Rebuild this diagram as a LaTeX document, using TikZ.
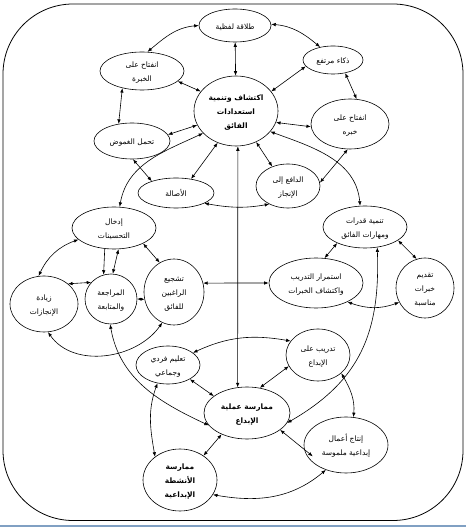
\documentclass[tikz,border=0pt]{standalone}
\usepackage{fontspec}
\usetikzlibrary{shapes.geometric,arrows.meta}
\TeXXeTstate=1
\newfontfamily\arabicfont[Script=Arabic]{DejaVu Sans}
\newcommand\zt[1]{\raisebox{-0.6ex}[0pt][0pt]{\makebox[0pt]{\begin{tabular}{@{}c@{}}#1\end{tabular}}}}
\newcommand\RL[1]{\beginR #1\endR}
\definecolor{rule}{RGB}{128,160,195}
\tikzset{
  bub/.style={draw, ellipse, line width=0.6pt, inner sep=0pt,
    font=\arabicfont\fontsize{7.5}{14}\selectfont},
  bubb/.style={bub, font=\arabicfont\bfseries\fontsize{7.5}{14}\selectfont},
  lnk/.style={line width=0.6pt, {Latex[length=4.5pt,width=3.5pt]}-{Latex[length=4.5pt,width=3.5pt]}},
  one/.style={line width=0.6pt, -{Latex[length=4.5pt,width=3.5pt]}},
}
\begin{document}
\begin{tikzpicture}[x=1pt,y=1pt]
\useasboundingbox (0,0) rectangle (466,528);
\draw[line width=0.8pt, rounded corners=70pt] (3,7.5) rectangle (463,524);
\draw[rule, line width=1.2pt] (0,2) -- (466,2);

% nodes
\node[bub, minimum width=72pt, minimum height=33pt] (T) at (235,502.5) {\zt{\RL{طلاقة لفظية}}};
\node[bub, minimum width=84pt, minimum height=38pt] (L1) at (142,457) {\zt{\RL{انفتاح على}\\\RL{الخبرة}}};
\node[bub, minimum width=60pt, minimum height=28pt] (R1) at (333,468) {\zt{\RL{ذكاء مرتفع}}};
\node[bubb, minimum width=84pt, minimum height=70pt] (C) at (236,417) {\zt{\RL{اكتشاف وتنمية}\\\RL{استعدادات}\\\RL{الفائق}}};
\node[bub, minimum width=78pt, minimum height=50pt] (R2) at (350,404) {\zt{\RL{انفتاح على}\\\RL{خبره}}};
\node[bub, minimum width=76pt, minimum height=36pt] (L2) at (132,387) {\zt{\RL{تحمل الغموض}}};
\node[bub, minimum width=76pt, minimum height=30pt] (A) at (176,335) {\zt{\RL{الأصالة}}};
\node[bub, minimum width=64pt, minimum height=44pt] (D) at (288,342) {\zt{\RL{الدافع إلى}\\\RL{الإنجاز}}};
\node[bub, minimum width=84pt, minimum height=42pt] (I) at (114,300) {\zt{\RL{إدخال}\\\RL{التحسينات}}};
\node[bub, minimum width=84pt, minimum height=42pt] (N) at (365,301) {\zt{\RL{تنمية قدرات}\\\RL{ومهارات الفائق}}};
\node[bub, minimum width=68pt, minimum height=56pt] (Z) at (44,224) {\zt{\RL{زيادة}\\\RL{الإنجازات}}};
\node[bub, minimum width=52pt, minimum height=50pt] (M) at (111,229) {\zt{\RL{المراجعة}\\\RL{والمتابعة}}};
\node[bub, minimum width=60pt, minimum height=66pt] (S) at (174,236) {\zt{\RL{تشجيع}\\\RL{الراغبين}\\\RL{للفائق}}};
\node[bub, minimum width=94pt, minimum height=50pt] (E) at (316,245) {\zt{\RL{استمرار التدريب}\\\RL{واكتشاف الخبرات}}};
\node[bub, minimum width=58pt, minimum height=60pt] (Q) at (425,240) {\zt{\RL{تقديم}\\\RL{خبرات}\\\RL{مناسبة}}};
\node[bub, minimum width=64pt, minimum height=52pt] (Tr) at (318,173) {\zt{\RL{تدريب على}\\\RL{الإبداع}}};
\node[bub, minimum width=64pt, minimum height=38pt] (Ta) at (168,163) {\zt{\RL{تعليم فردي}\\\RL{وجماعي}}};
\node[bubb, minimum width=86pt, minimum height=52pt] (P) at (247,115) {\zt{\RL{ممارسة عملية}\\\RL{الإبداع}}};
\node[bub, minimum width=84pt, minimum height=56pt] (O) at (346,83) {\zt{\RL{إنتاج أعمال}\\\RL{إبداعية ملموسة}}};
\node[bubb, minimum width=74pt, minimum height=62pt] (X) at (180,48) {\zt{\RL{ممارسة}\\\RL{الأنشطة}\\\RL{الإبداعية}}};

% connectors
\draw[lnk] (T.180) to[out=185,in=40] (L1.74);
\draw[lnk] (T.2) to[out=-5,in=140] (R1.135);
\draw[lnk] (T) -- (C);
\draw[lnk] (L1.-16) -- (C.151);
\draw[lnk] (R1.193) -- (C.29);
\draw[lnk] (L1.221) -- (L2.128);
\draw[lnk] (R1.-47) -- (R2.75);
\draw[lnk] (C.200) -- (L2.10);
\draw[lnk] (C.-16) -- (R2.184);
\draw[lnk] (C.240) -- (A.43);
\draw[lnk] (C.-57) -- (D.129);
\draw[lnk] (L2.-87) -- (A.154);
\draw[lnk] (A.-20) to[out=-10,in=190] (D.224);
\draw[lnk] (R2.265) -- (D.6);
\draw[lnk] (C.214) to[out=205,in=80] (I.75);
\draw[lnk] (C.-31) to[out=-20,in=95] (N.103);
\draw[lnk] (C.-87) -- (P.110);
\draw[lnk] (S.17) -- (E.180);
\draw[lnk] (I.198) to[out=200,in=65] (Z.101);
\draw[one] (I.246) -- (M.107);
\draw[lnk] (I.-78) -- (M.86);
\draw[lnk] (I.-28) -- (S.116);
\draw[lnk] (Z.40) -- (M.140);
\draw[line width=0.6pt, {Latex[length=3.5pt,width=3pt]}-{Latex[length=3.5pt,width=3pt]}] (M.0) -- (S.194);
\draw[lnk] (Z.-82) to[out=-55,in=235] (S.249);
\draw[lnk] (N.210) -- (E.71);
\draw[lnk] (N.-22) -- (Q.106);
\draw[lnk] (E.-31) to[out=-20,in=200] (Q.209);
\draw[lnk] (P.-14) to[out=30,in=-88,looseness=1.1] (N.-59);
\draw[lnk] (M.268) to[out=-80,in=155] (P.198);
\draw[lnk] (Ta.26) to[out=25,in=170] (Tr.153);
\draw[lnk] (Ta.-33) -- (P.153);
\draw[lnk] (Tr.201) -- (P.63);
\draw[lnk] (Ta.240) to[out=250,in=100] (X.137);
\draw[lnk] (P.220) -- (X.46);
\draw[lnk] (Tr.-38) to[out=-60,in=85] (O.75);
\draw[lnk, shorten >=-11pt] (P.-27) -- (O.186);
\draw[lnk] (X.-24) to[out=-10,in=220] (O.231);
\end{tikzpicture}
\end{document}
